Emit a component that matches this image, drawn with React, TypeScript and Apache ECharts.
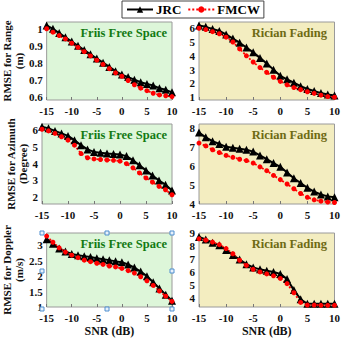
import React, { useEffect, useRef } from "react";
import * as echarts from "echarts";

const SNR = [-15, -13.75, -12.5, -11.25, -10, -8.75, -7.5, -6.25, -5, -3.75, -2.5, -1.25, 0, 1.25, 2.5, 3.75, 5, 6.25, 7.5, 8.75, 10];

const rangeFriisJRC = [1.02, 1.0, 0.975, 0.95, 0.925, 0.9, 0.875, 0.85, 0.825, 0.8, 0.775, 0.75, 0.73, 0.715, 0.7, 0.685, 0.675, 0.665, 0.65, 0.64, 0.625];
const rangeFriisFMCW = [1.0, 0.98, 0.96, 0.94, 0.915, 0.89, 0.865, 0.84, 0.815, 0.79, 0.765, 0.74, 0.72, 0.695, 0.67, 0.65, 0.635, 0.62, 0.61, 0.605, 0.6];
const rangeRicianJRC = [6.2, 6.1, 5.95, 5.8, 5.55, 5.25, 4.95, 4.6, 4.25, 3.85, 3.45, 3.0, 2.55, 2.3, 2.05, 1.8, 1.6, 1.45, 1.3, 1.2, 1.12];
const rangeRicianFMCW = [6.0, 5.9, 5.75, 5.6, 5.35, 5.0, 4.5, 4.0, 3.55, 3.15, 2.8, 2.45, 2.15, 1.9, 1.7, 1.55, 1.4, 1.28, 1.15, 1.05, 1.0];
const azFriisJRC = [6.2, 6.1, 5.95, 5.8, 5.65, 5.4, 5.1, 4.85, 4.7, 4.65, 4.6, 4.58, 4.55, 4.45, 4.2, 3.9, 3.6, 3.3, 3.0, 2.75, 2.4];
const azFriisFMCW = [6.05, 5.95, 5.8, 5.6, 5.4, 5.1, 4.6, 4.35, 4.28, 4.25, 4.22, 4.2, 4.15, 4.0, 3.75, 3.45, 3.15, 2.9, 2.65, 2.45, 2.15];
const azRicianJRC = [7.75, 7.5, 7.3, 7.15, 7.0, 6.95, 6.9, 6.85, 6.75, 6.55, 6.35, 6.15, 5.95, 5.65, 5.35, 5.1, 4.85, 4.65, 4.5, 4.4, 4.35];
const azRicianFMCW = [7.2, 7.05, 6.85, 6.7, 6.55, 6.45, 6.35, 6.28, 6.15, 5.95, 5.75, 5.5, 5.28, 5.05, 4.8, 4.55, 4.35, 4.22, 4.15, 4.1, 4.08];
const dopFriisJRC = [3.2, 3.05, 2.9, 2.8, 2.72, 2.68, 2.65, 2.62, 2.58, 2.55, 2.52, 2.48, 2.45, 2.38, 2.28, 2.15, 2.0, 1.8, 1.6, 1.4, 1.2];
const dopFriisFMCW = [3.3, 3.1, 2.92, 2.78, 2.68, 2.6, 2.52, 2.47, 2.42, 2.38, 2.33, 2.3, 2.25, 2.18, 2.1, 1.98, 1.85, 1.7, 1.52, 1.35, 1.18];
const dopRicianJRC = [8.7, 8.5, 8.25, 8.05, 7.7, 7.3, 6.95, 6.6, 6.35, 6.2, 6.1, 6.0, 5.85, 5.45, 4.6, 3.9, 3.55, 3.55, 3.55, 3.55, 3.55];
const dopRicianFMCW = [8.55, 8.45, 8.3, 8.1, 7.8, 7.4, 6.9, 6.5, 6.2, 6.0, 5.85, 5.7, 5.5, 5.1, 4.4, 3.65, 3.45, 3.45, 3.43, 3.43, 3.43];

const xTicks = [-15, -10, -5, 0, 5, 10];
const yTitles = ["RMSE for Range\n(m)", "RMSE for Azimuth\n(Degree)", "RMSE for Doppler\n(m/s)"];
const panelTitles = ["Friis Free Space", "Rician Fading"];
const legendNames = ["JRC", "FMCW"];

const panels = [
  { jrc: rangeFriisJRC, fmcw: rangeFriisFMCW, min: 0.58, max: 1.04, step: 0.1, dec: 1, fixed: false },
  { jrc: rangeRicianJRC, fmcw: rangeRicianFMCW, min: 0.8, max: 6.45, step: 1, dec: 0, fixed: false },
  { jrc: azFriisJRC, fmcw: azFriisFMCW, min: 1.6, max: 6.36, step: 1, dec: 0, fixed: false },
  { jrc: azRicianJRC, fmcw: azRicianFMCW, min: 4, max: 8.2, step: 1, dec: 0, fixed: true },
  { jrc: dopFriisJRC, fmcw: dopFriisFMCW, min: 1, max: 3.4, step: 0.5, dec: 1, fixed: true },
  { jrc: dopRicianJRC, fmcw: dopRicianFMCW, min: 3.3, max: 9, step: 1, dec: 0, fixed: false },
];

const FONT = "'Liberation Serif', 'DejaVu Serif', serif";
const rows = [
  { top: 22, height: 78 },
  { top: 124, height: 80 },
  { top: 233, height: 76 },
];
const cols = [
  { left: 42, width: 130 },
  { left: 199, width: 136 },
];

export default function App() {
  const ref = useRef<HTMLDivElement>(null);
  useEffect(() => {
    if (!ref.current) return;
    const chart = echarts.init(ref.current, null, { renderer: "svg" });
    const grids: any[] = [];
    const xAxes: any[] = [];
    const yAxes: any[] = [];
    const series: any[] = [];
    const titles: any[] = [];
    panels.forEach((p, i) => {
      const r = Math.floor(i / 2);
      const c = i % 2;
      grids.push({
        left: cols[c].left,
        width: cols[c].width,
        top: rows[r].top,
        height: rows[r].height,
        show: true,
        backgroundColor: c === 0 ? "#ddf6d9" : "#f3edc0",
        borderColor: "#9a9a9a",
        borderWidth: 1,
      });
      xAxes.push({
        type: "value",
        gridIndex: i,
        min: -15,
        max: 10,
        interval: 5,
        axisLine: { show: false },
        axisTick: { show: true, inside: true, length: 3, lineStyle: { color: "#777" } },
        splitLine: { show: false },
        axisLabel: {
          fontFamily: FONT,
          fontWeight: "bold",
          fontSize: 11,
          color: "#111",
          margin: 5,
          formatter: (v: number) => (xTicks.includes(v) ? String(v) : ""),
        },
        name: r === 2 ? "SNR (dB)" : "",
        nameLocation: "middle",
        nameGap: 18,
        nameTextStyle: { fontFamily: FONT, fontWeight: "bold", fontSize: 12, color: "#111" },
      });
      const y: any = {
        type: "value",
        gridIndex: i,
        min: p.min,
        max: p.max,
        axisLine: { show: false },
        axisTick: { show: false },
        splitLine: { show: false },
        axisLabel: {
          fontFamily: FONT,
          fontWeight: "bold",
          fontSize: 11,
          color: "#111",
          margin: 4,
          hideOverlap: false,
          showMinLabel: true,
          showMaxLabel: true,
          formatter: (v: number) => {
            const k = v / p.step;
            if (Math.abs(k - Math.round(k)) > 1e-6) return "";
            return p.dec ? String(Math.round(v * 10) / 10) : String(Math.round(v));
          },
        },
        name: c === 0 ? yTitles[r] : "",
        nameLocation: "middle",
        nameGap: 13,
        nameRotate: 90,
        nameTextStyle: { fontFamily: FONT, fontWeight: "bold", fontSize: 11, lineHeight: 12, color: "#111" },
      };
      if (p.fixed) y.interval = p.step;
      yAxes.push(y);
      titles.push({
        text: panelTitles[c],
        right: c === 0 ? 343 - 167 : 343 - 327,
        top: rows[r].top + 4,
        padding: 0,
        textStyle: {
          fontFamily: FONT,
          fontWeight: "bold",
          fontSize: 12.5,
          color: c === 0 ? "#137a13" : "#6e6a14",
        },
      });
      series.push({
        name: legendNames[0],
        type: "line",
        xAxisIndex: i,
        yAxisIndex: i,
        data: SNR.map((x, k) => [x, p.jrc[k]]),
        symbol: "triangle",
        symbolSize: 8,
        itemStyle: { color: "#000" },
        lineStyle: { color: "#000", width: 2 },
      });
      series.push({
        name: legendNames[1],
        type: "line",
        xAxisIndex: i,
        yAxisIndex: i,
        data: SNR.map((x, k) => [x, p.fmcw[k]]),
        symbol: "circle",
        symbolSize: 5,
        itemStyle: { color: "#ff0000" },
        lineStyle: { color: "#ff0000", width: 1.8, type: [2, 2] },
      });
    });

    const g = rows[2];
    const gc = cols[0];
    const xs = [gc.left, gc.left + gc.width / 2, gc.left + gc.width];
    const ys = [g.top, g.top + g.height / 2, g.top + g.height];
    const handles: any[] = [];
    ys.forEach((yy, a) =>
      xs.forEach((xx, b) => {
        if (a === 1 && b === 1) return;
        handles.push({
          type: "rect",
          shape: { x: xx - 2, y: yy - 2, width: 4, height: 4 },
          style: { fill: "#e8f1fb", stroke: "#4f8fcf", lineWidth: 1 },
          z: 100,
        });
      })
    );

    chart.setOption({
      animation: false,
      backgroundColor: "#ffffff",
      title: titles,
      legend: {
        data: legendNames,
        left: 122,
        top: 1,
        padding: [2, 4],
        itemGap: 6,
        itemWidth: 26,
        itemHeight: 8,
        borderColor: "#444",
        borderWidth: 1,
        backgroundColor: "#fff",
        textStyle: { fontFamily: FONT, fontWeight: "bold", fontSize: 13, color: "#000", padding: [0, 0, 0, -2] },
      },
      grid: grids,
      xAxis: xAxes,
      yAxis: yAxes,
      series,
      graphic: handles,
    });
    return () => chart.dispose();
  }, []);
  return <div ref={ref} style={{ position: "absolute", left: 0, top: 0, width: 343, height: 338 }} />;
}
